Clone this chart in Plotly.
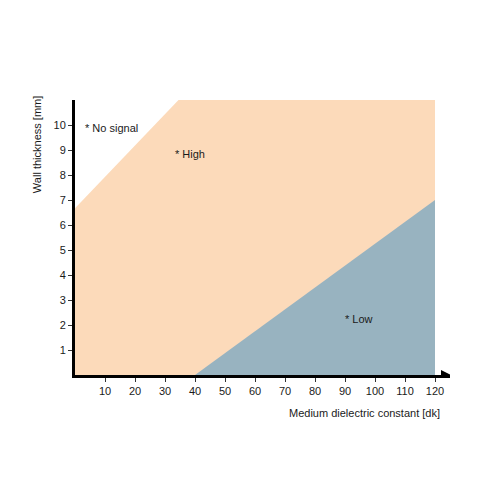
import plotly.graph_objects as go

# Region boundaries (dielectric constant dk, wall thickness mm)
high_x = [0, 0, 34.5, 120, 120]
high_y = [0, 6.67, 11, 11, 0]
low_x = [40, 120, 120]
low_y = [0, 7, 0]

x_ticks = [10, 20, 30, 40, 50, 60, 70, 80, 90, 100, 110, 120]
y_ticks = [1, 2, 3, 4, 5, 6, 7, 8, 9, 10]

labels = ["* No signal", "* High", "* Low"]
label_x = [2.7, 32.7, 89.4]
label_y = [9.9, 8.85, 2.25]

orange = "#FCDABA"
blue = "#98B3C0"
font = "Liberation Sans, Arial, sans-serif"
txt = "#1a1a1a"

fig = go.Figure()
fig.add_trace(go.Scatter(x=high_x, y=high_y, fill="toself", fillcolor=orange,
                         mode="none", hoverinfo="skip", showlegend=False))
fig.add_trace(go.Scatter(x=low_x, y=low_y, fill="toself", fillcolor=blue,
                         mode="none", hoverinfo="skip", showlegend=False))

for t, xx, yy in zip(labels, label_x, label_y):
    fig.add_annotation(x=xx, y=yy, text=t, showarrow=False, xanchor="left",
                       yanchor="middle", font=dict(size=11, color=txt, family=font))

fig.add_annotation(xref="paper", yref="paper", x=0.979, y=-0.109, text="Medium dielectric constant [dk]",
                   showarrow=False, xanchor="right", yanchor="top",
                   font=dict(size=11, color=txt, family=font))
fig.add_annotation(xref="paper", yref="paper", x=-0.101, y=1.02, text="Wall thickness [mm]",
                   showarrow=False, textangle=-90, xanchor="center", yanchor="top",
                   font=dict(size=11, color=txt, family=font))

# arrow head at end of x axis
fig.add_shape(type="path", xref="x", yref="y", xsizemode="pixel", ysizemode="pixel",
              xanchor=125, yanchor=0, path="M -9,-5 L 1,0 L -9,5 Z",
              fillcolor="black", line=dict(width=0))

fig.update_xaxes(range=[0, 125], tickvals=x_ticks, showline=True, linecolor="black",
                 linewidth=3, ticks="outside", ticklen=4, tickcolor="#333", tickwidth=1,
                 showgrid=False, zeroline=False,
                 tickfont=dict(size=11, color=txt, family=font))
fig.update_yaxes(range=[0, 11], tickvals=y_ticks, showline=True, linecolor="black",
                 linewidth=3, ticks="outside", ticklen=4, tickcolor="#333", tickwidth=1,
                 showgrid=False, zeroline=False,
                 tickfont=dict(size=11, color=txt, family=font))

fig.update_layout(width=500, height=500, margin=dict(l=67, r=58, t=92, b=133),
                  plot_bgcolor="white", paper_bgcolor="white")

fig.write_html("out.html")
